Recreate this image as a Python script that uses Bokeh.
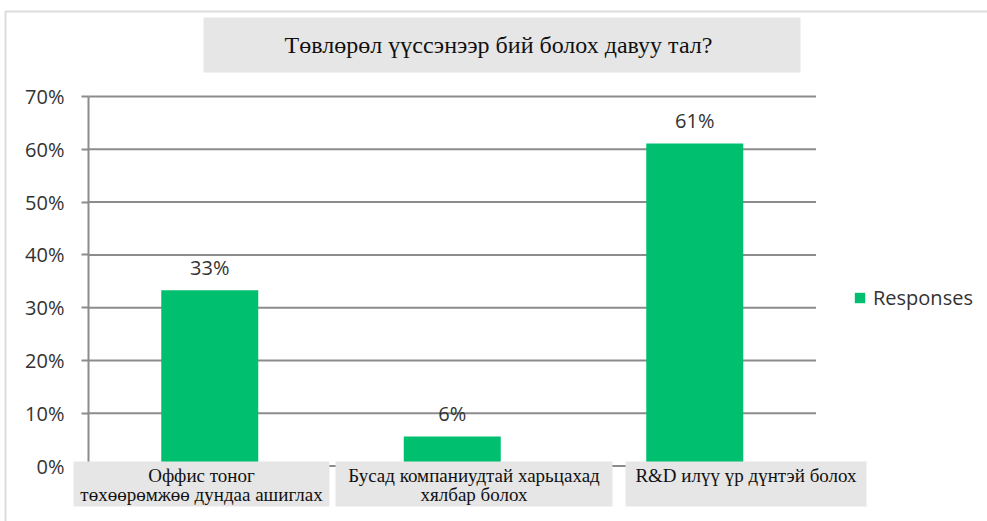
from bokeh.plotting import figure
from bokeh.models import (Range1d, NumeralTickFormatter, FixedTicker, LinearAxis,
                          BoxAnnotation, Label, Legend, LegendItem, ColumnDataSource)
from bokeh.core.properties import value
from bokeh.embed import file_html
from bokeh.resources import INLINE

# ---- data ----
title_text = "Төвлөрөл үүссэнээр бий болох давуу тал?"
categories = ["Оффис тоног төхөөрөмжөө дундаа ашиглах",
              "Бусад компаниудтай харьцахад хялбар болох",
              "R&D илүү үр дүнтэй болох"]
category_lines = [["Оффис тоног", "төхөөрөмжөө дундаа ашиглах"],
                  ["Бусад компаниудтай харьцахад", "хялбар болох"],
                  ["R&D илүү үр дүнтэй болох"]]
responses = [0.333, 0.056, 0.611]
response_labels = ["33%", "6%", "61%"]
y_ticks = [0.0, 0.1, 0.2, 0.3, 0.4, 0.5, 0.6, 0.7]
series_name = "Responses"

# ---- layout (pixels of the 987x521 canvas) ----
W, H = 987, 521
AX_L, CAT_W = 88.0, 242.5          # left of plot area, width of one category
Y0_PX, PX_PER_UNIT = 465.5, 527.8  # pixel row of 0%, pixels per 100%
GREEN = "#00BF6F"
GRID = "#8c8c8c"
SERIF = "Liberation Serif"
SANS = "Open Sans"

x_start = -AX_L / CAT_W
x_end = (W - AX_L) / CAT_W
y_end = (Y0_PX - 0) / PX_PER_UNIT
y_start = -(H - Y0_PX) / PX_PER_UNIT

p = figure(width=W, height=H,
           x_range=Range1d(x_start, x_end), y_range=Range1d(y_start, y_end),
           x_axis_location=None, y_axis_location=None,
           output_backend="svg", toolbar_location=None,
           min_border=0, min_border_left=0, min_border_right=0,
           min_border_top=0, min_border_bottom=0)
p.outline_line_color = None
p.grid.visible = False
p.background_fill_color = "white"
p.border_fill_color = "white"

n = len(categories)
xs = [i + 0.5 for i in range(n)]

# horizontal grid lines
p.segment(x0=[0] * len(y_ticks), x1=[n] * len(y_ticks), y0=y_ticks, y1=y_ticks,
          line_color=GRID, line_width=2)

# y axis drawn at x = 0 (left edge of the plot area)
ya = LinearAxis(fixed_location=0, bounds=(min(y_ticks), max(y_ticks)),
                ticker=FixedTicker(ticks=y_ticks),
                formatter=NumeralTickFormatter(format="0%"))
ya.axis_line_color = GRID
ya.axis_line_width = 2
ya.major_tick_line_color = GRID
ya.major_tick_line_width = 2
ya.major_tick_out = 7
ya.major_tick_in = 0
ya.minor_tick_line_color = None
ya.major_label_standoff = 17
ya.major_label_text_font = SANS
ya.major_label_text_font_size = "20px"
ya.major_label_text_color = "#333333"
p.add_layout(ya, "left")

src = ColumnDataSource(dict(x=xs, cat=categories, val=responses, lab=response_labels))
bars = p.vbar(x="x", top="val", width=0.4, source=src,
              fill_color=GREEN, line_color=None)
p.text(x="x", y="val", text="lab", source=src, y_offset=-23,
       text_align="center", text_baseline="middle",
       text_font=value(SANS), text_font_size="20px", text_color="#333333")


def Y(y):
    return H - y


def sbox(l, t, r, b, **kw):
    return BoxAnnotation(left=l, right=r, top=Y(t), bottom=Y(b),
                         left_units="screen", right_units="screen",
                         top_units="screen", bottom_units="screen", **kw)


# outer border (top and left edges visible)
p.add_layout(sbox(5, 11, 1010, 540, fill_color=None, line_color=GRID, line_width=2))
# title box
p.add_layout(sbox(203, 17, 800, 72, fill_color="#e6e6e6", fill_alpha=1, line_color=None))
p.add_layout(Label(x=498, y=Y(44), x_units="screen", y_units="screen",
                   text=title_text, text_align="center", text_baseline="middle",
                   text_font=SERIF, text_font_size="24px", text_color="#111111"))

# category label boxes
boxes = [(73, 329), (335, 612), (625, 866)]
for (l, r), lines in zip(boxes, category_lines):
    p.add_layout(sbox(l, 461, r, 506, fill_color="#e6e6e6", fill_alpha=1, line_color=None))
    for i, line in enumerate(lines):
        p.add_layout(Label(x=(l + r) / 2, y=Y(475 + 19 * i), x_units="screen", y_units="screen",
                           text=line, text_align="center", text_baseline="middle",
                           text_font=SERIF, text_font_size="19px", text_color="#111111"))

legend = Legend(items=[LegendItem(label=series_name, renderers=[bars])],
                location=(853, Y(311)),
                border_line_color=None, background_fill_alpha=0,
                padding=0, margin=0, glyph_width=13, glyph_height=13,
                label_standoff=7, label_text_font=SANS, label_height=24,
                label_text_font_size="20px", label_text_color="#333333")
p.add_layout(legend)

open("out.html", "w").write(file_html(p, INLINE))
